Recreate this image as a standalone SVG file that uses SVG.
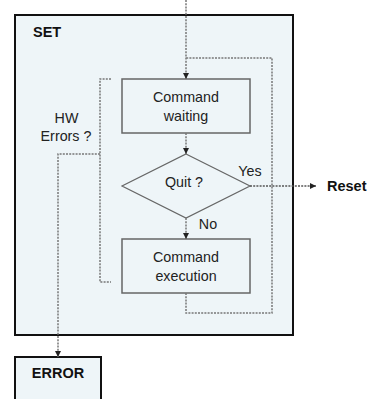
<svg xmlns="http://www.w3.org/2000/svg" width="371" height="399" viewBox="0 0 371 399">
  <style>
    .frame { fill: #eef5f8; stroke: #111; stroke-width: 2; }
    .step { fill: #eef5f8; stroke: #666; stroke-width: 1.5; }
    .flow { fill: none; stroke: #777; stroke-width: 1.5; stroke-dasharray: 2 1.2; }
    .label { font-family: "Liberation Sans", Arial, sans-serif; font-size: 14.3px; fill: #222; text-anchor: middle; }
    .title { font-family: "Liberation Sans", Arial, sans-serif; font-size: 14.5px; font-weight: bold; fill: #111; }
  </style>
  <defs>
    <marker id="arrow" viewBox="0 0 8 8" refX="8" refY="4" markerWidth="6" markerHeight="6" markerUnits="userSpaceOnUse" orient="auto">
      <path d="M0,0 L8,4 L0,8 z" fill="#222"/>
    </marker>
  </defs>

  <g id="set">
    <rect class="frame" x="15" y="15" width="278" height="320"/>
    <text class="title" x="33" y="37">SET</text>
  </g>

  <g id="error">
    <rect class="frame" x="15" y="357" width="86" height="43"/>
    <text class="title" x="58" y="378" text-anchor="middle">ERROR</text>
  </g>

  <g id="command-waiting">
    <rect class="step" x="122" y="79" width="128" height="54"/>
    <text class="label" x="186" y="101.5">Command</text>
    <text class="label" x="186" y="120.5">waiting</text>
  </g>

  <g id="quit">
    <polygon class="step" style="stroke-width:1.2" points="186,154 250,186 186,218 122,186"/>
    <text class="label" x="184" y="187">Quit ?</text>
  </g>

  <g id="command-execution">
    <rect class="step" x="122" y="239" width="128" height="54"/>
    <text class="label" x="186" y="261.5">Command</text>
    <text class="label" x="186" y="280.5">execution</text>
  </g>

  <g id="reset">
    <text class="title" x="327" y="191">Reset</text>
  </g>

  <g id="connectors">
    <!-- entry into SET -->
    <line class="flow" x1="186" y1="0" x2="186" y2="79" marker-end="url(#arrow)"/>
    <!-- loop back from execution to waiting -->
    <polyline class="flow" points="186,293 186,313 272,313 272,58 186,58"/>
    <!-- waiting to decision -->
    <line class="flow" x1="186" y1="133" x2="186" y2="154" marker-end="url(#arrow)"/>
    <!-- decision: No -->
    <line class="flow" x1="186" y1="218" x2="186" y2="239" marker-end="url(#arrow)"/>
    <text class="label" x="208" y="229">No</text>
    <!-- decision: Yes -->
    <line class="flow" style="stroke:#555" x1="250" y1="186" x2="316" y2="186" marker-end="url(#arrow)"/>
    <text class="label" x="250" y="175.5">Yes</text>
    <!-- hardware error bracket -->
    <polyline class="flow" points="111,79 100,79 100,282 111,282"/>
    <polyline class="flow" points="100,154 58,154 58,357" marker-end="url(#arrow)"/>
    <text class="label" x="66.5" y="122.5">HW</text>
    <text class="label" x="66" y="141">Errors ?</text>
  </g>
</svg>
